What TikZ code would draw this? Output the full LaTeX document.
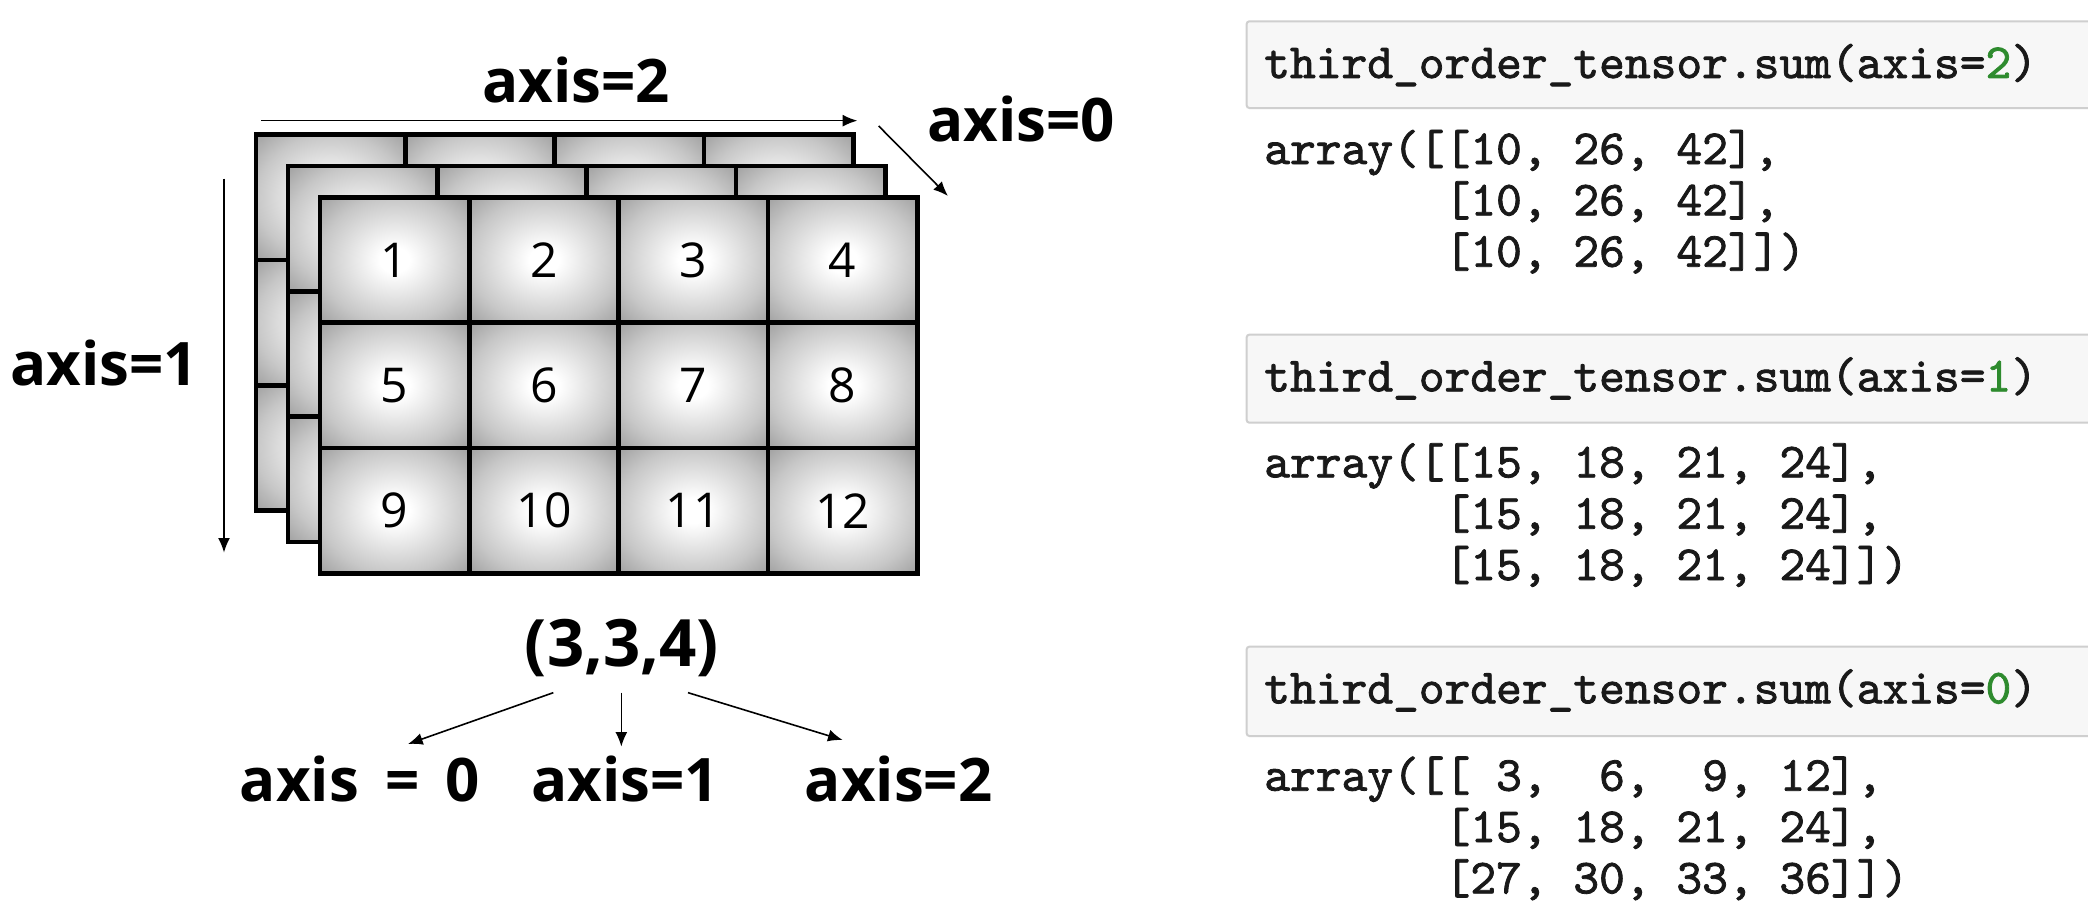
\documentclass[tikz,border=0pt]{standalone}
\usepackage{fontspec}
\setmainfont{Open Sans}
\newfontfamily\codefont{lmmono10-regular.otf}[FakeBold=1.6]
\usepackage{xcolor}
\usetikzlibrary{arrows.meta,positioning}
\definecolor{codegreen}{HTML}{2E8B2E}
\definecolor{codeframe}{HTML}{CFCFCF}
\definecolor{codebg}{HTML}{F7F7F7}
\pgfdeclareradialshading{cellglow}{\pgfpoint{0bp}{0bp}}{%
	color(0bp)=(white); color(5bp)=(white); color(25bp)=(black!22);
	color(36bp)=(black!38); color(50bp)=(black!38)}
\tikzset{%
	cell/.style      = {draw, line width=3.5pt, shade, shading=cellglow, minimum width=112pt, minimum height=94pt, inner sep=0pt}, % one entry
	num/.style       = {font=\fontsize{36}{40}\selectfont, inner sep=0pt},
	axislabel/.style = {font=\bfseries\fontsize{45}{54}\selectfont, anchor=base, inner sep=0pt},
	shapelabel/.style= {font=\bfseries\fontsize{49}{58}\selectfont, anchor=base, inner sep=0pt},
	axisarrow/.style = {line width=1.2pt, -{Latex[length=11pt,width=9pt]}},
	codebox/.style   = {draw=codeframe, fill=codebg, line width=1.5pt, rounded corners=2pt},
	code/.style      = {font=\codefont\fontsize{36.8}{40}\selectfont, text=black!90, anchor=base west, inner sep=0pt},
}
\begin{document}
\begin{tikzpicture}[x=1pt,y=-1pt]
	\path[use as bounding box, fill=white] (0,0) rectangle (1566,693);

	% tensor: back, middle, front layer
	\foreach \l in {0,1,2}
		\foreach \r in {0,1,2}
			\foreach \c in {0,...,3}
				\node[cell] (cell-\l-\r-\c) at ({248+24*\l+112*\c},{148+23.5*\l+94*\r}) {};
	\foreach \r in {0,1,2}
		\foreach \c in {0,...,3}{
			\pgfmathtruncatemacro{\n}{4*\r+\c+1}
			\node[num] at (cell-2-\r-\c) {\n};
		}

	% axis labels round the tensor
	\node[axislabel] (ax2) at (432,77) {axis=2};
	\node[axislabel] (ax0) at (766,106) {axis=0};
	\node[axislabel] (ax1) at (78,289) {axis=1};
	\coordinate (ax2s) at (196,90.5);
	\coordinate (ax2e) at (643,90.5);
	\coordinate (ax0s) at (659,94.5);
	\coordinate (ax0e) at (711,147);
	\coordinate (ax1s) at (168,134);
	\coordinate (ax1e) at (168,414.5);
	\draw[axisarrow] (ax2s) -- (ax2e);
	\draw[axisarrow] (ax0s) -- (ax0e);
	\draw[axisarrow] (ax1s) -- (ax1e);

	% shape and its axes
	\node[shapelabel] (shape) at (466.5,500) {(3,3,4)};
	\node[axislabel] (out0) at (270,601) {axis\hspace{8pt} =\hspace{8pt} 0};
	\node[axislabel] (out1) at (469,601) {axis=1};
	\node[axislabel] (out2) at (674,601) {axis=2};
	\coordinate (sh0) at (415,519.5);
	\coordinate (sh1) at (466,519.5);
	\coordinate (sh2) at (516,519.5);
	\coordinate (tip0) at (306,558);
	\coordinate (tip1) at (466,560);
	\coordinate (tip2) at (632,555);
	\draw[axisarrow] (sh0) -- (tip0);
	\draw[axisarrow] (sh1) -- (tip1);
	\draw[axisarrow] (sh2) -- (tip2);

	% code cells
	\draw[codebox] (935,16) rectangle (1580,81);
	\node[code] (cmd2) at (948,58.5) {third\_order\_tensor.sum(axis=\textcolor{codegreen}{2})};
	\node[code] (res2a) at (948,123) {array([[10, 26, 42],};
	\node[code] (res2b) at (948,161.5) {\ \ \ \ \ \ \ [10, 26, 42],};
	\node[code] (res2c) at (948,200) {\ \ \ \ \ \ \ [10, 26, 42]])};

	\draw[codebox] (935,251) rectangle (1580,317);
	\node[code] (cmd1) at (948,293.5) {third\_order\_tensor.sum(axis=\textcolor{codegreen}{1})};
	\node[code] (res1a) at (948,358) {array([[15, 18, 21, 24],};
	\node[code] (res1b) at (948,396.5) {\ \ \ \ \ \ \ [15, 18, 21, 24],};
	\node[code] (res1c) at (948,435) {\ \ \ \ \ \ \ [15, 18, 21, 24]])};

	\draw[codebox] (935,485) rectangle (1580,552);
	\node[code] (cmd0) at (948,527.5) {third\_order\_tensor.sum(axis=\textcolor{codegreen}{0})};
	\node[code] (res0a) at (948,593) {array([[\ 3,\ \ 6,\ \ 9,\ 12],};
	\node[code] (res0b) at (948,631.5) {\ \ \ \ \ \ \ [15, 18, 21, 24],};
	\node[code] (res0c) at (948,670) {\ \ \ \ \ \ \ [27, 30, 33, 36]])};
\end{tikzpicture}
\end{document}
